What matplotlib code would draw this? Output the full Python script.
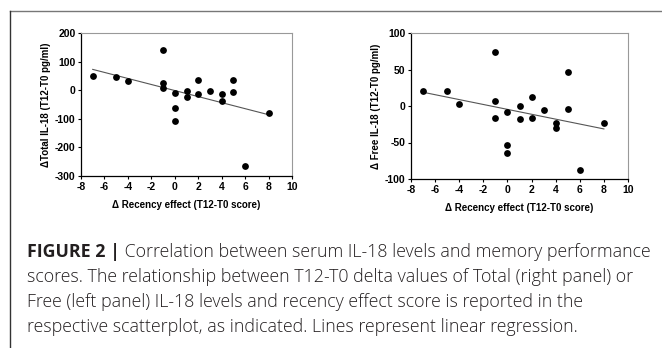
import numpy as np
import matplotlib
matplotlib.use("Agg")
import matplotlib.pyplot as plt
from matplotlib.lines import Line2D

plt.rcParams['font.family'] = ['Liberation Sans', 'DejaVu Sans']
plt.rcParams['font.weight'] = 'bold'
plt.rcParams['axes.unicode_minus'] = False

# Left panel: Total IL-18
total_x = [-7, -5, -4, -1, -1, -1, 0, 0, 0, 1, 1, 2, 2, 3, 4, 4, 5, 5, 6, 8]
total_y = [48, 46, 33, 139, 25, 7, -10, -63, -109, -2, -25, 36, -14, -2, -13, -39, 37, -6, -266, -78]

# Right panel: Free IL-18
free_x = [-7, -5, -4, -1, -1, -1, 0, 0, 0, 1, 1, 2, 2, 3, 4, 4, 5, 5, 6, 8]
free_y = [21, 21, 3, 74, 7.5, -16, -8, -54, -65, 0, -18, 12.6, -16, -6, -23, -30, 46, -4, -88, -23]

x_ticks = [-8, -6, -4, -2, 0, 2, 4, 6, 8, 10]
total_yticks = [-300, -200, -100, 0, 100, 200]
free_yticks = [-100, -50, 0, 50, 100]

xlabel = "\u0394 Recency effect (T12-T0 score)"
total_ylabel = "\u0394Total IL-18 (T12-T0 pg/ml)"
free_ylabel = "\u0394 Free IL-18 (T12-T0 pg/ml)"

caption_bold = "FIGURE 2 |"
caption_lines = [
    " Correlation between serum IL-18 levels and memory performance",
    "scores. The relationship between T12-T0 delta values of Total (right panel) or",
    "Free (left panel) IL-18 levels and recency effect score is reported in the",
    "respective scatterplot, as indicated. Lines represent linear regression.",
]

fig = plt.figure(figsize=(6.62, 3.48), dpi=100)
W, H = 662, 348

def ax_rect(l, t, r, b):
    return [l / W, 1 - b / H, (r - l) / W, (b - t) / H]

def style(ax, xs, ys, yticks, ylabel):
    ax.scatter(xs, ys, s=24, color='black', zorder=3, linewidths=0)
    m, c = np.polyfit(xs, ys, 1)
    xr = np.array([min(xs), max(xs)])
    ax.plot(xr, m * xr + c, color='#555555', lw=0.8, zorder=2)
    ax.set_xlim(-8, 10)
    ax.set_ylim(yticks[0], yticks[-1])
    ax.set_xticks(x_ticks, labels=[str(v) for v in x_ticks],
                  fontweight='bold', fontsize=7.5, family='Liberation Sans')
    ax.set_yticks(yticks, labels=[str(v) for v in yticks],
                  fontweight='bold', fontsize=7.5, family='Liberation Sans')
    ax.tick_params(width=0.8, length=2.5, pad=1.5)
    ax.spines['left'].set_linewidth(0.9)
    ax.spines['bottom'].set_linewidth(0.9)
    for s in ['top', 'right']:
        ax.spines[s].set_color('#999999')
        ax.spines[s].set_linewidth(0.8)
    ax.set_xlabel(xlabel, fontsize=7, fontweight='bold', labelpad=6)
    ax.set_ylabel(ylabel, fontsize=7, fontweight='bold', labelpad=3)

ax1 = fig.add_axes(ax_rect(81, 33, 292, 176))
style(ax1, total_x, total_y, total_yticks, total_ylabel)

ax2 = fig.add_axes(ax_rect(411, 33, 628, 179))
style(ax2, free_x, free_y, free_yticks, free_ylabel)

# Frame lines
fig.add_artist(Line2D([10 / W, 1], [1 - 11 / H, 1 - 11 / H], color='#777777', lw=1.0))
fig.add_artist(Line2D([10 / W, 10 / W], [0, 1 - 11 / H], color='#333333', lw=1.0))

# Caption
cap_family = ['Open Sans', 'Liberation Sans', 'DejaVu Sans']
cap_fs = 11.0
x0 = 27
y0 = 252
dy = 25
target_right = 649

def draw_caption(fs):
    texts = []
    t = fig.text(x0 / W, 1 - y0 / H, caption_bold, fontsize=fs, fontweight='bold',
                 family=cap_family, color='#231f20', va='center', ha='left')
    texts.append(t)
    fig.canvas.draw()
    bb = t.get_window_extent()
    t1 = fig.text(bb.x1 / W, 1 - y0 / H, caption_lines[0], fontsize=fs, family=cap_family,
                  fontweight='light', color='#231f20', va='center', ha='left')
    texts.append(t1)
    for i, line in enumerate(caption_lines[1:], start=1):
        texts.append(fig.text(x0 / W, 1 - (y0 + i * dy) / H, line, fontsize=fs,
                              family=cap_family, fontweight='light', color='#231f20',
                              va='center', ha='left'))
    fig.canvas.draw()
    return texts, t1.get_window_extent().x1

texts, right = draw_caption(cap_fs)
scale = (target_right - x0) / (right - x0)
for t in texts:
    t.remove()
draw_caption(cap_fs * scale)

fig.savefig('out.png', dpi=100)
